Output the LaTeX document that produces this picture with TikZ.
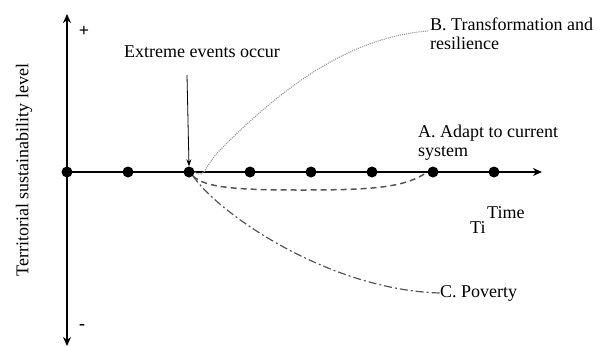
\documentclass[tikz,border=0pt]{standalone}
\usepackage{fontspec}
\setmainfont{Liberation Serif}
\usetikzlibrary{positioning,arrows.meta}
\definecolor{Curve}{HTML}{555555}
\definecolor{Faint}{HTML}{9A9A9A}

\begin{document}
\begin{tikzpicture}[x=1pt,y=-1pt, every node/.style={font=\fontsize{18}{19}\selectfont}]
\tikzstyle{dot}=[circle,fill=black,inner sep=0pt,minimum size=11pt]
\tikzstyle{lbl}=[anchor=west,align=left,inner sep=0pt]
\tikzstyle{axis}=[line width=2.8pt,-{Stealth[length=9pt,width=8pt]}]
\useasboundingbox (0,0) rectangle (605,346);
% axes
\coordinate (o) at (67,172);
\coordinate (top) at (67,14);
\coordinate (bot) at (67,346);
\coordinate (end) at (542,172);
\draw[axis] (o) -- (top);
\draw[axis] (o) -- (bot);
\draw[axis] (o) -- (end);
\foreach \i in {0,...,7}
  \node[dot] (d\i) at (67+61*\i,172) {};
\node at (84,31) {\textbf{+}};
\node at (82,327) {\textbf{-}};
\node[rotate=90] (ylab) at (24,170) {Territorial sustainability level};
% event
\node (ev) at (202,52) {Extreme events occur};
\draw[-{Stealth[length=7pt,width=5pt]},line width=0.8pt] (187,75) -- (d2.north);
% outcomes
\node[lbl] (labB) at (430,34) {B. Transformation and\\resilience};
\node[lbl] (labA) at (418,143) {A. Adapt to current\\system};
\node[lbl] (labC) at (440,293) {C. Poverty};
\draw[Faint,densely dotted,line width=1.1pt] (d2.east) .. controls (205,180) and (205,165) .. (220,150)
  .. controls (270,100) and (340,38) .. (428,31);
\draw[Curve,dashed,line width=1.5pt,dash pattern=on 6pt off 4pt] (d2.south east) .. controls (205,188) and (240,190) .. (300,190)
  .. controls (370,190) and (405,188) .. (d6.west);
\draw[Curve,line width=1.2pt,dash pattern=on 8pt off 3pt on 2pt off 3pt] (d2.south east) .. controls (220,215) and (330,290) .. (labC.west);
% time label
\node[anchor=west,inner sep=0pt] (t1) at (470,228) {Time};
\node[fill=white,anchor=north west,inner sep=0pt,minimum width=60pt,minimum height=50pt] (mask) at (485,190) {};
\node[anchor=west,inner sep=0pt] (t2) at (487,213) {Time};
\end{tikzpicture}
\end{document}
